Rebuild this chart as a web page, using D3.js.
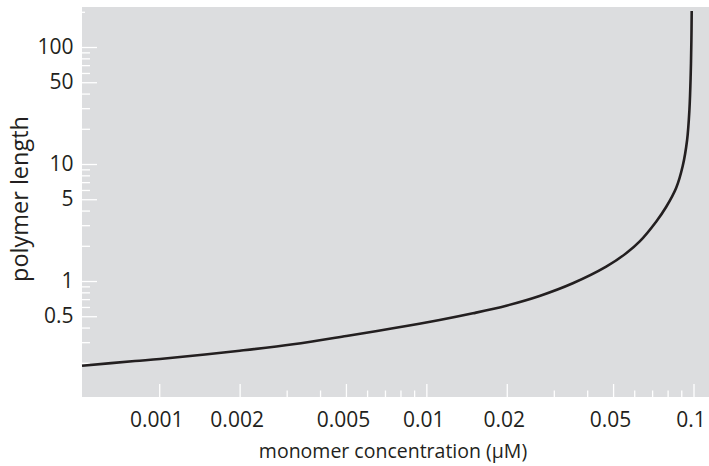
<!DOCTYPE html>
<html>
<head>
<meta charset="utf-8">
<script src="https://cdn.jsdelivr.net/npm/d3@7"></script>
<style>
  html, body { margin: 0; padding: 0; background: #ffffff; }
  svg { display: block; }
  text { font-family: "Open Sans", "Noto Sans", sans-serif; fill: #231f20; }
</style>
</head>
<body>
<svg id="chart" width="709" height="466"></svg>
<script>
// Monomer concentration (µM) and resulting mean polymer length
const concentration = [
  0.000514, 0.000811, 0.001006, 0.002003, 0.00317, 0.005022, 0.0075,
  0.01121, 0.01494, 0.01992, 0.02653, 0.03534, 0.04712, 0.05597,
  0.06277, 0.07246, 0.07898, 0.0861, 0.09112, 0.09465, 0.09654,
  0.09761, 0.09821, 0.09847
];
const polymerLength = [
  0.1888, 0.2071, 0.2154, 0.2537, 0.2877, 0.3388, 0.3941,
  0.4642, 0.5297, 0.6151, 0.7446, 0.9557, 1.325, 1.725,
  2.168, 3.213, 4.29, 6.235, 9.614, 16.04, 28.94,
  57.64, 114.8, 203
];

// Axis ticks
const xTicks = [
  0.001, 0.002, 0.003, 0.004, 0.005, 0.006, 0.007, 0.008, 0.009,
  0.01, 0.02, 0.03, 0.04, 0.05, 0.06, 0.07, 0.08, 0.09, 0.1
];
const xTickLabels = ["0.001", "0.002", "0.005", "0.01", "0.02", "0.05", "0.1"];
const yTicks = [
  0.2, 0.3, 0.4, 0.5, 0.6, 0.7, 0.8, 0.9,
  1, 2, 3, 4, 5, 6, 7, 8, 9,
  10, 20, 30, 40, 50, 60, 70, 80, 90,
  100, 200
];
const yTickLabels = ["0.5", "1", "5", "10", "50", "100"];
const yEdgeTicks = [200];

const xTitle = "monomer concentration (\u03BCM)";
const yTitle = "polymer length";

// Plot frame
const plot = { left: 82, right: 709, top: 7, bottom: 397 };
const xDomain = [0.000514, 0.1143];
const yDomain = [0.102, 219.8];

const svg = d3.select("#chart");

const x = d3.scaleLog().domain(xDomain).range([plot.left, plot.right]);
const y = d3.scaleLog().domain(yDomain).range([plot.bottom, plot.top]);

// Grey plot panel
svg.append("rect")
  .attr("x", plot.left)
  .attr("y", plot.top)
  .attr("width", plot.right - plot.left)
  .attr("height", plot.bottom - plot.top)
  .attr("fill", "#dcdddf");

const fmt = v => String(+v.toPrecision(3));

// X axis: white ticks pointing up into the panel, labels below
const xAxis = d3.axisBottom(x)
  .tickValues(xTicks)
  .tickSizeInner(0)
  .tickSizeOuter(0)
  .tickFormat("");
const gx = svg.append("g")
  .attr("transform", `translate(0,${plot.bottom})`)
  .call(xAxis);
gx.select(".domain").remove();
gx.selectAll(".tick line")
  .attr("y2", d => xTickLabels.includes(fmt(d)) ? -13 : -6.5)
  .attr("stroke", "#ffffff")
  .attr("stroke-width", 1.3);
gx.selectAll(".tick").filter(d => xTickLabels.includes(fmt(d)))
  .append("text")
  .attr("x", -3)
  .attr("y", 30)
  .attr("text-anchor", "middle")
  .style("font-size", "21px")
  .text(d => fmt(d));

// Y axis: white ticks pointing right into the panel, labels to the left
const yAxis = d3.axisLeft(y)
  .tickValues(yTicks)
  .tickSizeInner(0)
  .tickSizeOuter(0)
  .tickFormat("");
const gy = svg.append("g")
  .attr("transform", `translate(${plot.left},0)`)
  .call(yAxis);
gy.select(".domain").remove();
gy.selectAll(".tick line")
  .attr("x2", d => yEdgeTicks.includes(d) ? 3 : (yTickLabels.includes(fmt(d)) ? 15 : 8))
  .attr("stroke", "#ffffff")
  .attr("stroke-width", 1.3);
gy.selectAll(".tick").filter(d => yTickLabels.includes(fmt(d)))
  .append("text")
  .attr("x", -8.5)
  .attr("y", 6)
  .attr("text-anchor", "end")
  .style("font-size", "21px")
  .text(d => fmt(d));

// Curve (centripetal Catmull-Rom keeps the sharp bend smooth)
const line = d3.line()
  .x((d, i) => x(concentration[i]))
  .y(d => y(d))
  .curve(d3.curveCatmullRom.alpha(0.5));

svg.append("path")
  .datum(polymerLength)
  .attr("d", line)
  .attr("fill", "none")
  .attr("stroke", "#231f20")
  .attr("stroke-width", 2.6)
  .attr("stroke-linecap", "butt");

// Axis titles
svg.append("text")
  .attr("x", 393)
  .attr("y", 458)
  .attr("text-anchor", "middle")
  .style("font-size", "19.5px")
  .text(xTitle);

svg.append("text")
  .attr("transform", "translate(28,199) rotate(-90)")
  .attr("text-anchor", "middle")
  .style("font-size", "23.5px")
  .text(yTitle);
</script>
</body>
</html>
